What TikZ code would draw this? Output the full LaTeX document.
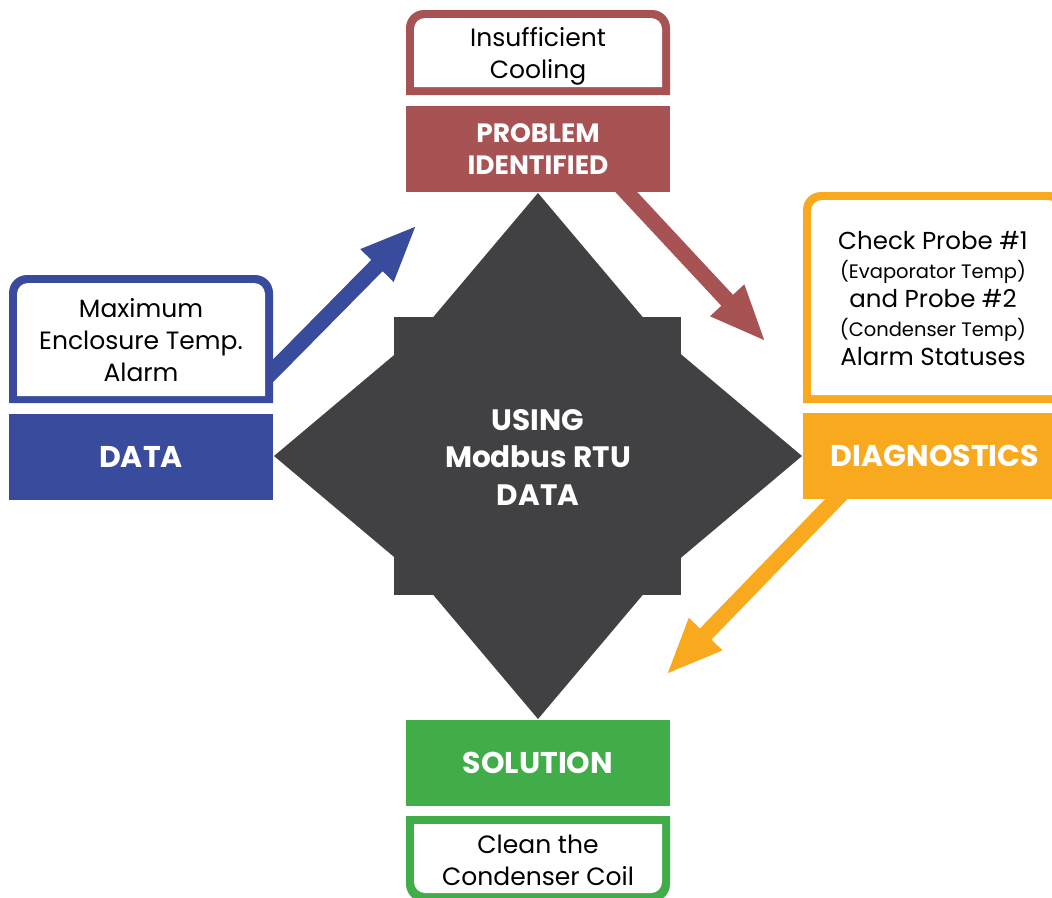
\documentclass[tikz,border=0pt]{standalone}
\usepackage{fontspec}
\setmainfont{Poppins}
\usetikzlibrary{arrows.meta}
\definecolor{cblue}{RGB}{57,75,156}
\definecolor{cred}{RGB}{167,82,83}
\definecolor{corange}{RGB}{249,169,30}
\definecolor{cgreen}{RGB}{64,173,73}
\definecolor{cdark}{RGB}{65,65,67}
\begin{document}
\begin{tikzpicture}[x=1pt,y=-1pt,
  every node/.style={inner sep=0pt, outer sep=0pt},
  arr/.style={line width=16pt, -{Triangle[length=57pt,width=42pt]}},
  lab/.style={minimum width=264pt, minimum height=86pt, text=white, align=center,
              font=\bfseries\fontsize{30}{36}\selectfont},
  txt/.style={align=center, text=black, font=\fontsize{25}{32}\selectfont},
  core/.style={align=center, text=white, font=\bfseries\fontsize{29.5}{37.5}\selectfont}]
\useasboundingbox (0,0) rectangle (1052,897);
\clip (0,0) rectangle (1052,897);

% connector end points
\coordinate (bstart) at (262,382);
\coordinate (btip) at (417,225);
\coordinate (rstart) at (616,181);
\coordinate (rtip) at (766,342);
\coordinate (ostart) at (847,488);
\coordinate (otip) at (666,675);

% arrows
\draw[arr, cblue] (bstart) -- (btip);
\draw[arr, cred] (rstart) -- (rtip);
\draw[arr, corange] (ostart) -- (otip);

% outlined text boxes
\fill[cred] (406,95) [rounded corners=18pt] -- (406,10) -- (670,10) [sharp corners] -- (670,95) -- cycle;
\fill[white] (414,87) [rounded corners=11pt] -- (414,18) -- (662,18) [sharp corners] -- (662,87) -- cycle;

\fill[cblue] (9,403) [rounded corners=18pt] -- (9,275) -- (273,275) [sharp corners] -- (273,403) -- cycle;
\fill[white] (17,396) [rounded corners=11pt] -- (17,283) -- (265,283) [sharp corners] -- (265,396) -- cycle;

\fill[corange] (803,403) [rounded corners=18pt] -- (803,192) -- (1067,192) [sharp corners] -- (1067,403) -- cycle;
\fill[white] (811,395) [rounded corners=11pt] -- (811,200) -- (1059,200) [sharp corners] -- (1059,395) -- cycle;

\fill[cgreen] (406,816) [rounded corners=18pt] -- (406,902) -- (670,902) [sharp corners] -- (670,816) -- cycle;
\fill[white] (414,824) [rounded corners=11pt] -- (414,893) -- (662,893) [sharp corners] -- (662,824) -- cycle;

% central shape: tall rhombus, wide rhombus and square
\fill[cdark] (538,193) -- (760,456) -- (538,719) -- (316,456) -- cycle;
\fill[cdark] (538,234) -- (802,456) -- (538,678) -- (274,456) -- cycle;
\fill[cdark] (394,317) rectangle (681,595);
\node[core] (core) at (538,457) {USING\\Modbus RTU\\DATA};

% label boxes
\node[lab, fill=cred, font=\bfseries\fontsize{26.5}{32}\selectfont] (prob) at (538,149) {PROBLEM\\IDENTIFIED};
\node[lab, fill=cblue] (data) at (141,457) {DATA};
\node[lab, fill=corange] (diag) at (935,456) {DIAGNOSTICS};
\node[lab, fill=cgreen] (sol) at (538,763) {SOLUTION};

% texts
\node[txt] (probtxt) at (538,56) {Insufficient\\Cooling};
\node[txt] (datatxt) at (141,340) {Maximum\\Enclosure Temp.\\Alarm};
\node[txt, font=\fontsize{24.5}{29}\selectfont] (diagtxt) at (933,299) {Check Probe \#1\\{\fontsize{19.5}{29}\selectfont(Evaporator Temp)}\\and Probe \#2\\{\fontsize{19.5}{29}\selectfont(Condenser Temp)}\\Alarm Statuses};
\node[txt] (soltxt) at (538,860) {Clean the\\Condenser Coil};
\end{tikzpicture}
\end{document}
